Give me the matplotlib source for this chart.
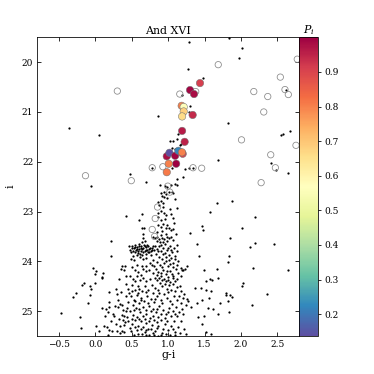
import numpy as np
import matplotlib
matplotlib.use('Agg')
import matplotlib.pyplot as plt

plt.rcParams['font.family'] = ['DejaVu Serif']
plt.rcParams['mathtext.fontset'] = 'dejavuserif'

# members with membership probability (g-i, i, P_i)
mem_gi = [1.438, 1.301, 1.356, 1.186, 1.214, 1.214, 1.192, 1.337, 1.192, 1.227,
          0.981, 1.018, 1.096, 1.141, 1.20, 1.19, 1.11, 1.008, 0.981]
mem_i = [20.42, 20.56, 20.64, 20.876, 20.90, 20.99, 21.09, 21.06, 21.38, 21.60,
         21.89, 21.82, 21.88, 21.78, 21.84, 21.81, 22.04, 22.04, 22.21]
mem_p = [0.91, 0.99, 0.98, 0.80, 0.56, 0.68, 0.66, 0.94, 0.96, 0.95,
         0.98, 0.137, 0.99, 0.22, 0.90, 0.80, 1.0, 0.80, 0.81]

# spectroscopic non-members (open circles)
non_gi = [0.301, 1.689, 1.16, 1.379, 2.178, 2.37, 2.543, 2.607, 2.653, 2.776,
          2.315, 2.009, 2.758, 2.411, 2.475, 2.279, 1.461, 1.342, 0.927, 0.781,
          -0.137, 0.493, 0.995, 1.023, 0.854, 0.822, 0.781, 0.813]
non_i = [20.58, 20.05, 20.64, 20.59, 20.59, 20.69, 20.30, 20.55, 20.65, 19.94,
         21.0, 21.56, 21.67, 21.86, 22.12, 22.42, 22.13, 22.12, 22.10, 22.12,
         22.28, 22.38, 22.49, 22.61, 22.91, 23.14, 23.36, 23.50]

# photometric catalogue (small black dots)
phot = [
    # bright / sparse part
    (1.288, 19.59), (1.836, 19.51), (2.018, 19.71), (1.973, 19.91), (1.279, 20.13),
    (1.474, 20.32), (1.192, 20.66), (1.301, 20.89), (1.292, 21.0), (0.867, 21.08),
    (1.822, 21.23), (1.137, 21.44), (1.032, 21.59), (1.073, 21.59), (1.118, 21.54),
    (1.168, 21.66), (1.055, 21.73), (1.09, 21.74), (1.173, 21.64), (1.684, 21.97),
    (1.055, 22.12), (1.233, 22.14), (1.282, 22.12), (-0.365, 21.33), (0.05, 21.46),
    (-0.064, 22.49), (0.479, 22.24), (0.699, 22.4), (2.621, 20.55), (1.337, 22.12),
    (0.781, 22.13), (1.013, 22.6), (2.652, 22.22), (2.488, 22.16), (2.419, 22.02),
    (2.557, 21.47), (2.58, 21.44), (2.67, 21.39), (1.2, 22.30), (1.127, 22.34),
    (1.09, 22.45), (1.045, 22.46), (1.118, 22.46), (1.054, 22.6), (1.072, 22.62),
    (1.095, 22.74), (1.127, 22.92), (1.027, 22.95), (1.04, 23.04), (1.068, 23.13),
    (1.081, 23.24), (0.99, 23.27), (1.017, 23.33), (1.036, 23.38), (1.064, 23.36),
    (1.11, 23.46), (0.99, 22.72), (0.99, 22.51), (0.885, 22.46), (0.954, 22.48),
    (1.671, 22.83), (1.872, 22.79), (1.58, 23.01), (2.196, 23.11), (1.47, 23.29),
    (1.475, 23.38), (2.018, 23.33), (1.297, 23.44),
    # upper RGB column
    (0.945, 22.6), (0.918, 22.68), (0.895, 22.63), (0.949, 22.71), (0.967, 22.65),
    (0.867, 22.81), (0.908, 22.78), (0.936, 22.83), (0.877, 22.87), (0.936, 22.9),
    (0.899, 22.98), (0.858, 23.02), (0.94, 23.02), (0.967, 23.07), (0.867, 23.1),
    (0.904, 23.17), (0.959, 23.15), (0.932, 23.25), (0.863, 23.27), (0.895, 23.31),
    (0.977, 23.33), (0.922, 23.40), (0.849, 23.42), (0.967, 23.45), (0.904, 23.47),
    (0.42, 23.08), (0.598, 23.16), (0.639, 23.04), (0.634, 23.34), (0.671, 23.34),
    (0.657, 23.46), (0.21, 23.59), (0.219, 23.89),
    # clump and top of dense region
    (0.795, 23.51), (0.82, 23.54), (0.85, 23.52), (0.877, 23.55), (0.91, 23.53),
    (0.94, 23.55), (0.978, 23.52), (1.015, 23.54), (1.046, 23.52), (0.84, 23.59),
    (0.887, 23.61), (0.93, 23.62), (0.987, 23.59), (0.658, 23.54), (0.686, 23.59),
    (0.635, 23.61), (1.07, 23.58),
    (0.475, 23.77), (0.498, 23.70), (0.512, 23.80), (0.53, 23.73), (0.544, 23.67),
    (0.558, 23.78), (0.567, 23.71), (0.58, 23.83), (0.594, 23.69), (0.603, 23.75),
    (0.62, 23.80), (0.63, 23.70), (0.645, 23.87), (0.658, 23.74), (0.667, 23.67),
    (0.68, 23.80), (0.695, 23.71), (0.70, 23.85), (0.713, 23.77), (0.727, 23.69),
    (0.74, 23.81), (0.75, 23.73), (0.759, 23.87), (0.772, 23.78), (0.786, 23.70),
    (0.567, 23.87), (0.61, 23.91), (0.52, 23.89), (0.485, 23.95), (0.53, 23.98),
    (0.70, 23.93), (0.658, 23.95),
    (0.505, 23.74), (0.54, 23.82), (0.575, 23.76), (0.6, 23.66), (0.615, 23.85),
    (0.64, 23.76), (0.655, 23.82), (0.69, 23.77), (0.705, 23.68), (0.72, 23.82),
    (0.735, 23.75), (0.765, 23.8), (0.78, 23.74), (0.8, 23.78), (0.55, 23.72),
    (0.62, 23.73), (0.68, 23.69), (0.49, 23.82), (0.46, 23.7), (0.59, 23.79),
    (0.818, 23.69), (0.85, 23.75), (0.877, 23.70), (0.905, 23.80), (0.93, 23.73),
    (0.96, 23.83), (0.987, 23.77), (1.02, 23.70), (1.05, 23.82), (1.087, 23.74),
    (1.115, 23.67), (0.83, 23.85), (0.868, 23.91), (0.914, 23.95), (0.968, 23.91),
    (1.005, 23.98), (1.046, 23.93), (1.09, 23.89), (1.124, 23.80), (0.84, 24.02),
    (0.887, 24.07), (0.94, 24.03), (0.996, 24.09), (1.07, 24.03), (1.138, 24.0),
    (0.795, 23.97), (0.75, 24.03), (0.70, 24.1), (0.635, 24.09), (0.567, 24.07),
    (0.96, 23.66), (1.0, 23.73), (0.9, 23.68), (1.04, 23.77), (0.93, 23.86),
    (1.01, 23.87), (1.1, 23.95), (0.86, 23.8), (0.97, 24.0), (1.02, 24.05),
    (0.92, 24.12), (1.06, 24.12), (1.12, 24.07), (0.81, 24.1), (0.78, 24.07),
    # middle
    (0.498, 24.11), (0.544, 24.17), (0.59, 24.22), (0.65, 24.15), (0.695, 24.2),
    (0.74, 24.17), (0.786, 24.23), (0.83, 24.15), (0.864, 24.22), (0.896, 24.29),
    (0.93, 24.17), (0.968, 24.25), (1.0, 24.31), (1.03, 24.2), (1.07, 24.29),
    (1.105, 24.15), (1.138, 24.23), (1.17, 24.13), (1.206, 24.18),
    (0.98, 24.2), (0.9, 24.24), (1.05, 24.26), (1.18, 24.3), (0.85, 24.27),
    (0.62, 24.27), (0.55, 24.4), (0.42, 24.45), (0.45, 24.55), (0.6, 24.55),
    (0.818, 24.33), (0.85, 24.37), (0.877, 24.33), (0.91, 24.38), (0.94, 24.35),
    (0.968, 24.4), (1.0, 24.37), (1.03, 24.42), (1.06, 24.34), (1.09, 24.39),
    (1.124, 24.35), (0.887, 24.43), (0.955, 24.45), (1.015, 24.47), (1.07, 24.45),
    (0.475, 24.3), (0.52, 24.35), (0.567, 24.29), (0.61, 24.37), (0.658, 24.33),
    (0.70, 24.4), (0.75, 24.35), (0.498, 24.47), (0.59, 24.49), (0.68, 24.5),
    (0.772, 24.47), (0.544, 24.57), (0.635, 24.6), (0.727, 24.57), (0.467, 24.63),
    (0.818, 24.53), (0.864, 24.58), (0.91, 24.5), (0.978, 24.55), (1.046, 24.57),
    (1.115, 24.51), (1.16, 24.49), (1.183, 24.6),
    # lower main sequence region
    (0.485, 24.7), (0.53, 24.77), (0.576, 24.67), (0.62, 24.73), (0.667, 24.8),
    (0.713, 24.69), (0.759, 24.75), (0.804, 24.82), (0.85, 24.7), (0.896, 24.77),
    (0.94, 24.65), (0.987, 24.73), (1.03, 24.8), (1.078, 24.69), (1.124, 24.77),
    (1.17, 24.83), (1.206, 24.73), (1.243, 24.87), (1.275, 24.8), (0.512, 24.87),
    (0.558, 24.93), (0.603, 24.83), (0.65, 24.91), (0.695, 24.98), (0.74, 24.89),
    (0.786, 24.95), (0.83, 25.02), (0.877, 24.9), (0.923, 24.98), (0.968, 25.05),
    (1.015, 24.93), (1.06, 25.0), (1.105, 24.91), (1.15, 25.02), (1.197, 24.95),
    (0.475, 25.0), (0.52, 25.07), (0.567, 25.11), (0.61, 25.02), (0.658, 25.09),
    (0.70, 25.05), (0.75, 25.13), (0.795, 25.09), (0.864, 25.11), (0.955, 25.13),
    (1.046, 25.1), (1.115, 25.09),
    (0.5, 24.6), (0.58, 24.63), (0.69, 24.62), (0.79, 24.63), (0.88, 24.64),
    (1.0, 24.62), (1.09, 24.6), (1.22, 24.65), (0.45, 24.82), (0.55, 24.8),
    (0.63, 24.78), (0.72, 24.83), (0.82, 24.75), (0.92, 24.84), (1.05, 24.86),
    (1.15, 24.7), (1.26, 24.75), (0.44, 24.93), (0.53, 24.97), (0.6, 24.95),
    (0.77, 25.0), (0.85, 24.95), (0.9, 25.05), (1.0, 25.02), (1.09, 25.05),
    (1.2, 25.05), (0.43, 25.12), (0.5, 25.15), (0.6, 25.15), (0.68, 25.16),
    (0.73, 25.2), (0.8, 25.17), (0.84, 25.22), (0.9, 25.18), (0.99, 25.2),
    (1.08, 25.2), (1.17, 25.2), (0.47, 25.33), (0.55, 25.32), (0.62, 25.35),
    (0.69, 25.38), (0.76, 25.35), (0.84, 25.33), (0.93, 25.35), (0.97, 25.45),
    (1.07, 25.35), (0.58, 25.45), (0.7, 25.48), (0.8, 25.48), (0.9, 25.48),
    (1.1, 25.48), (1.25, 25.45),
    (0.453, 25.2), (0.498, 25.25), (0.544, 25.17), (0.59, 25.29), (0.62, 25.2),
    (0.658, 25.31), (0.695, 25.23), (0.727, 25.35), (0.772, 25.27), (0.818, 25.4),
    (0.864, 25.3), (0.91, 25.43), (0.955, 25.25), (1.0, 25.37), (1.046, 25.29),
    (1.09, 25.42), (1.138, 25.31), (0.485, 25.4), (0.53, 25.47), (0.576, 25.37),
    (0.635, 25.45), (0.68, 25.42), (0.74, 25.47), (0.786, 25.43), (0.864, 25.49),
    (1.02, 25.47), (1.16, 25.43),
    # red side scatter
    (1.39, 23.65), (1.425, 23.89), (1.26, 24.1), (1.23, 24.15), (1.197, 24.18),
    (1.49, 24.17), (1.608, 24.38), (1.57, 24.35), (1.516, 24.4), (1.457, 24.53),
    (1.366, 24.53), (1.526, 24.57), (1.594, 24.6), (1.562, 24.73), (1.47, 24.77),
    (1.39, 24.83), (1.32, 24.91), (1.548, 24.93), (1.617, 24.95), (1.49, 25.1),
    (1.41, 25.11), (1.47, 25.25), (1.215, 25.35), (1.526, 25.41), (1.594, 25.45),
    (1.849, 23.54), (2.192, 23.63), (2.452, 23.65), (2.123, 23.72), (1.836, 23.89),
    (1.826, 24.02), (1.676, 24.15), (2.173, 24.13), (2.648, 24.18), (1.689, 24.33),
    (2.036, 24.44), (2.014, 24.5), (1.799, 24.63), (1.794, 24.67), (1.854, 24.68),
    (1.877, 24.71), (2.356, 24.66), (1.717, 24.83), (1.822, 24.79), (2.151, 24.87),
    (1.685, 25.05), (1.831, 25.02),
    # blue side scatter
    (-0.028, 24.14), (0.013, 24.19), (0.0, 24.25), (0.105, 24.23), (0.086, 24.31),
    (0.095, 24.34), (-0.005, 24.43), (-0.151, 24.43), (-0.188, 24.48), (-0.078, 24.49),
    (-0.06, 24.55), (-0.274, 24.63), (-0.302, 24.71), (-0.069, 24.68), (0.182, 24.61),
    (-0.101, 24.83), (0.191, 24.81), (0.182, 24.91), (0.086, 24.93), (0.141, 24.95),
    (0.169, 25.01), (0.269, 24.89), (0.315, 24.77), (0.333, 24.86), (0.31, 24.91),
    (0.36, 24.87), (0.246, 25.05), (0.26, 25.09), (0.319, 25.15), (0.37, 25.08),
    (0.374, 25.17), (0.392, 25.09), (0.406, 25.22), (-0.475, 25.04), (-0.21, 25.12),
    (-0.192, 25.33), (0.009, 25.29), (0.114, 25.29), (0.155, 25.31), (0.191, 25.37),
    (0.233, 25.4), (0.296, 25.39), (0.169, 25.47), (0.365, 25.39), (0.392, 25.27),
    (0.388, 24.18), (0.356, 24.16), (0.406, 24.09), (0.37, 24.09), (0.392, 25.42),
    (0.333, 25.43),
    (0.28, 24.55), (0.35, 24.62), (0.42, 24.7), (0.3, 24.65), (0.38, 24.98),
    (0.42, 25.0), (0.28, 25.25), (0.34, 25.3), (0.22, 25.2), (0.13, 25.1),
    (0.05, 25.4), (0.42, 24.3), (0.33, 24.35),
]
phot_gi = [p[0] for p in phot]
phot_i = [p[1] for p in phot]

fig = plt.figure(figsize=(374 / 72, 374 / 72), dpi=72)
ax = fig.add_axes([0.0997, 0.1016, 0.6998, 0.7987])
cax = fig.add_axes([0.7995, 0.1016, 0.0505, 0.7987])

ax.scatter(phot_gi, phot_i, s=5, c='k', lw=0, zorder=1)
ax.scatter(non_gi, non_i, s=40, facecolors='none', edgecolors='0.55', lw=0.8, zorder=2)
sc = ax.scatter(mem_gi, mem_i, s=55, c=mem_p, cmap='Spectral_r',
                edgecolors='0.45', lw=0.5, zorder=3)

ax.set_xlim(-0.8, 2.8)
ax.set_ylim(25.5, 19.5)
ax.set_xticks([-0.5, 0.0, 0.5, 1.0, 1.5, 2.0, 2.5])
ax.set_yticks([20, 21, 22, 23, 24, 25])
ax.tick_params(direction='in', top=True, right=True, length=4, labelsize=9, pad=4)
ax.set_xlabel('g-i', fontsize=11, labelpad=1)
ax.set_ylabel('i', fontsize=11, labelpad=6)
ax.set_title('And XVI', fontsize=11, pad=3)

cb = fig.colorbar(sc, cax=cax)
cb.set_ticks([0.2, 0.3, 0.4, 0.5, 0.6, 0.7, 0.8, 0.9])
cb.ax.tick_params(labelsize=9, length=3, direction='out')
cb.outline.set_linewidth(0.8)
cax.set_title('$P_i$', fontsize=11, pad=3)

fig.savefig('out.png', dpi=72)
